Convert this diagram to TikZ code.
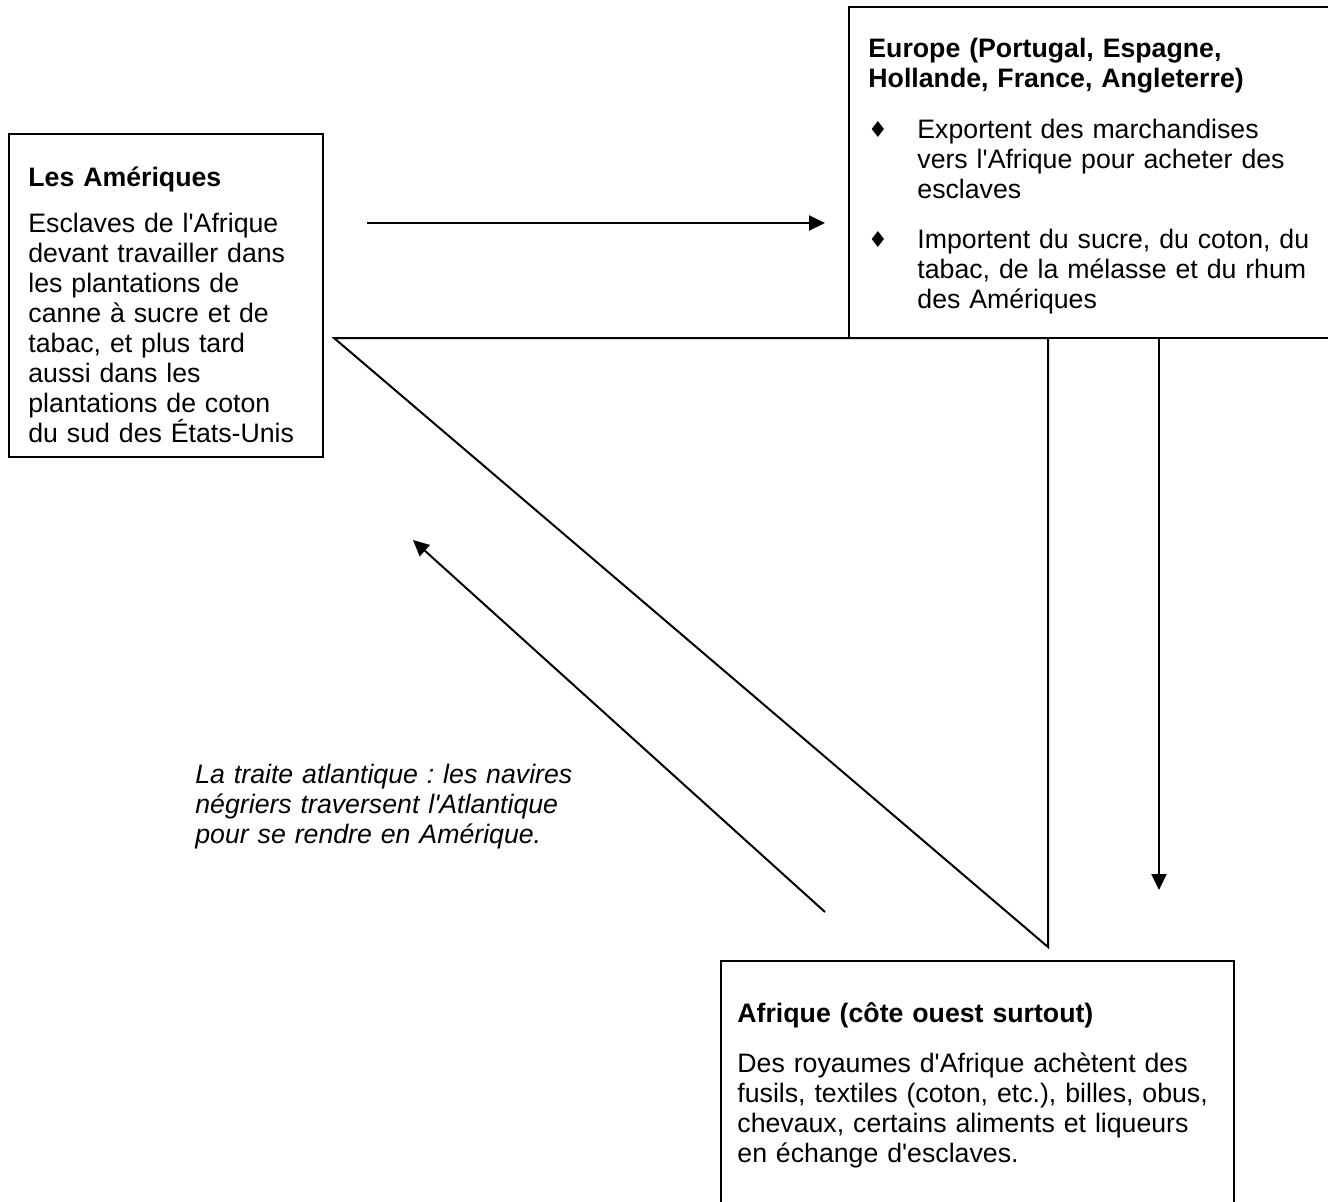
\documentclass[tikz,border=0pt]{standalone}
\usepackage{fontspec}
\setmainfont{Liberation Sans}
\newfontfamily\symfont{DejaVu Sans}
\usetikzlibrary{arrows.meta}
\newcommand\sq{\textquotesingle}
\frenchspacing
\tikzset{
  box/.style={draw, line width=1pt, inner sep=0pt, anchor=north west},
  para/.style={anchor=base west, inner sep=0pt, text width=#1, align=left,
    font=\fontsize{13.35}{15}\selectfont},
  para/.default=160pt,
  puce/.style={inner sep=0pt, font=\symfont\fontsize{11}{11}\selectfont},
  trail/.style={line width=1pt, line join=miter},
  flow/.style={line width=1pt, -{Triangle[length=8pt,width=7.5pt]}},
}
\begin{document}
\begin{tikzpicture}[x=0.5pt,y=-0.5pt]
\useasboundingbox (0,0) rectangle (1328,1201);
\clip (0,0) rectangle (1328,1201);
% the three boxes
\node[box, minimum width=157pt, minimum height=161.5pt] (amer) at (8,133) {};
\node[box, minimum width=246pt, minimum height=165.5pt] (europe) at (848,6) {};
\node[box, minimum width=256.5pt, minimum height=127.5pt] (afrique) at (720,960) {};
% Les Ameriques
\node[para] (amerT) at (28,186) {\textbf{Les Amériques}};
\node[para] (amerB) at (28,232) {Esclaves de l\sq Afrique\\devant travailler dans\\les plantations de\\canne à sucre et de\\tabac, et plus tard\\aussi dans les\\plantations de coton\\du sud des États-Unis};
% Europe
\node[para=220pt] (euroT) at (868,57) {\textbf{Europe (Portugal, Espagne,}\\\textbf{Hollande, France, Angleterre)}};
\node[puce] (p1) at (878,129) {♦};
\node[para=220pt] (euroA) at (917,138) {Exportent des marchandises\\vers l\sq Afrique pour acheter des\\esclaves};
\node[puce] (p2) at (878,239) {♦};
\node[para=220pt] (euroB) at (917,248) {Importent du sucre, du coton, du\\tabac, de la mélasse et du rhum\\des Amériques};
% Afrique
\node[para=240pt] (afrT) at (737,1022) {\textbf{Afrique (côte ouest surtout)}};
\node[para=240pt] (afrB) at (737,1072) {Des royaumes d\sq Afrique achètent des\\fusils, textiles (coton, etc.), billes, obus,\\chevaux, certains aliments et liqueurs\\en échange d\sq esclaves.};
% traite
\node[para=200pt, font=\fontsize{13.35}{15}\selectfont\itshape] (traite) at (195,783) {La traite atlantique : les navires\\négriers traversent l\sq Atlantique\\pour se rendre en Amérique.};
% triangle
\coordinate (tl) at (334,338);
\coordinate (tr) at (1048,338);
\coordinate (tb) at (1048,947);
\draw[trail] (tl) -- (tr) -- (tb) -- cycle;
% arrows
\coordinate (allerA) at (367,223);
\coordinate (allerB) at (825,223);
\coordinate (descA) at (1159,338);
\coordinate (descB) at (1159,890);
\coordinate (retourA) at (825,912);
\coordinate (retourB) at (413,540);
\draw[flow] (allerA) -- (allerB);
\draw[flow] (descA) -- (descB);
\draw[flow] (retourA) -- (retourB);
\end{tikzpicture}
\end{document}
